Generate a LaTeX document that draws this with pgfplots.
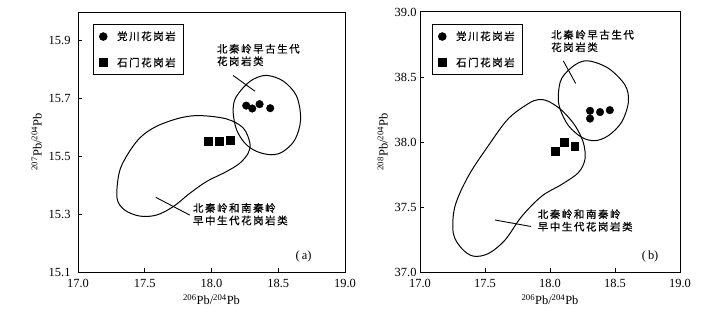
\documentclass[border=0pt]{standalone}
\usepackage{pgfplots}
\pgfplotsset{compat=1.18}
\usepackage{fontspec}
\setmainfont{Liberation Serif}
\newfontfamily\cjk[LetterSpace=15,FakeBold=0.6]{Noto Sans CJK SC}
\newcommand{\cjkf}{\cjk\fontsize{10.5}{12.5}\selectfont}
\pgfplotsset{
  panel/.style={
    scale only axis,
    xmin=17, xmax=19,
    xtick={17,17.5,18,18.5,19},
    tick align=inside, tick pos=left,
    major tick length=4bp,
    axis line style={line width=1pt},
    every tick/.style={black, line width=1pt},
    tick label style={font=\fontsize{12.5}{14}\selectfont},
    /pgf/number format/assume math mode=true,
    xticklabel style={/tikz/yshift=-4bp,/pgf/number format/.cd,fixed,fixed zerofill,precision=1},
    yticklabel style={/pgf/number format/.cd,fixed,fixed zerofill,precision=1},
    label style={font=\fontsize{12.5}{14}\selectfont},
    xlabel={\textsuperscript{206}Pb/\textsuperscript{204}Pb},
    clip=false,
    legend cell align=left,
    legend image code/.code={\draw[only marks,#1] plot coordinates {(0pt,0pt)};},
    legend style={font=\cjkf, draw=black, line width=0.9pt, inner xsep=6pt, inner ysep=5pt, row sep=12pt,
      /tikz/every odd column/.append style={column sep=8pt}},
  },
  curve/.style={black, line width=1pt, smooth cycle, tension=0.55, forget plot},
  leader/.style={black, line width=0.9pt, forget plot},
  ptc/.style={only marks, mark=*, mark size=3.8bp, black},
  pts/.style={only marks, mark=square*, mark size=3.9bp, black},
}
\begin{document}
\begin{tikzpicture}
\path[use as bounding box] (0bp,0bp) rectangle (705bp,317bp);
% ---------------- panel (a)
\begin{axis}[panel, at={(78bp,45bp)}, anchor=south west, width=267bp, height=260bp,
  ymin=15.1, ymax=16.0, ytick={15.1,15.3,15.5,15.7,15.9},
  yticklabel style={/tikz/xshift=-4bp},
  ylabel={\textsuperscript{207}Pb/\textsuperscript{204}Pb},
  legend style={at={(rel axis cs:0.056,0.954)}, anchor=north west}]
\addplot[ptc] coordinates {(18.26,15.676) (18.305,15.666) (18.36,15.681) (18.44,15.667)};
\addlegendentry{党川花岗岩\hspace{22pt}}
\addplot[pts] coordinates {(17.975,15.552) (18.06,15.552) (18.14,15.556)};
\addlegendentry{石门花岗岩\hspace{22pt}}
\addplot[curve] coordinates {
 (18.4125,15.7806) (18.5375,15.7609) (18.6375,15.7087) (18.6675,15.6275)
 (18.625,15.558) (18.5375,15.5174) (18.45,15.5058) (18.3375,15.5174)
 (18.25,15.546) (18.1875,15.593) (18.1625,15.651) (18.175,15.697)
 (18.2375,15.738) (18.3125,15.767)};
\addplot[curve] coordinates {
 (17.9125,15.6414) (18.1125,15.6299) (18.2375,15.5986) (18.2875,15.5464)
 (18.275,15.5116) (18.2125,15.4768) (18.1125,15.4478) (17.9625,15.413)
 (17.8375,15.3725) (17.7125,15.326) (17.5875,15.297) (17.4625,15.2936)
 (17.35,15.3145) (17.2925,15.355) (17.3075,15.442) (17.3625,15.5)
 (17.4625,15.5638) (17.5875,15.6043) (17.7625,15.633)};
\addplot[leader] coordinates {(18.1625,15.78) (18.325,15.726)};
\addplot[leader] coordinates {(17.5825,15.3585) (17.8375,15.297)};
\node[anchor=west, align=left, font=\cjkf, inner sep=0pt] at (axis cs:18.04,15.851) {北秦岭早古生代\\花岗岩类};
\node[anchor=west, align=left, font=\cjkf, inner sep=0pt] at (axis cs:17.86,15.30) {北秦岭和南秦岭\\早中生代花岗岩类};
\node[anchor=center, font=\fontsize{12.5}{14}\selectfont, inner sep=0pt] at (axis cs:18.69,15.152) {(\,a)};
\end{axis}
% ---------------- panel (b)
\begin{axis}[panel, at={(420bp,45bp)}, anchor=south west, width=260bp, height=260bp,
  ymin=37, ymax=39, ytick={37,37.5,38,38.5,39},
  ylabel={\textsuperscript{208}Pb/\textsuperscript{204}Pb},
  legend style={at={(rel axis cs:0.046,0.954)}, anchor=north west}]
\addplot[ptc] coordinates {(18.308,38.24) (18.308,38.18) (18.385,38.23) (18.46,38.245)};
\addlegendentry{党川花岗岩\hspace{22pt}}
\addplot[pts] coordinates {(18.04,37.93) (18.11,38.0) (18.19,37.965)};
\addlegendentry{石门花岗岩\hspace{22pt}}
\addplot[curve] coordinates {
 (18.295,38.624) (18.449,38.567) (18.577,38.438) (18.603,38.308)
 (18.551,38.153) (18.449,38.049) (18.346,38.010) (18.244,38.036)
 (18.141,38.127) (18.077,38.256) (18.064,38.360) (18.090,38.490)
 (18.192,38.593)};
\addplot[curve] coordinates {
 (17.910,38.326) (17.987,38.313) (18.090,38.244) (18.192,38.127)
 (18.256,37.997) (18.269,37.868) (18.218,37.764) (18.090,37.674)
 (17.936,37.583) (17.782,37.427) (17.654,37.246) (17.526,37.142)
 (17.410,37.122) (17.321,37.181) (17.256,37.298) (17.269,37.505)
 (17.372,37.738) (17.526,37.972) (17.679,38.179) (17.833,38.295)};
\addplot[leader] coordinates {(18.1026,38.624) (18.197,38.451)};
\addplot[leader] coordinates {(17.577,37.40) (17.854,37.35)};
\node[anchor=west, align=left, font=\cjkf, inner sep=0pt] at (axis cs:18.008,38.777) {北秦岭早古生代\\花岗岩类};
\node[anchor=west, align=left, font=\cjkf, inner sep=0pt] at (axis cs:17.905,37.397) {北秦岭和南秦岭\\早中生代花岗岩类};
\node[anchor=center, font=\fontsize{12.5}{14}\selectfont, inner sep=0pt] at (axis cs:18.77,37.12) {(\,b)};
\end{axis}
\end{tikzpicture}
\end{document}
